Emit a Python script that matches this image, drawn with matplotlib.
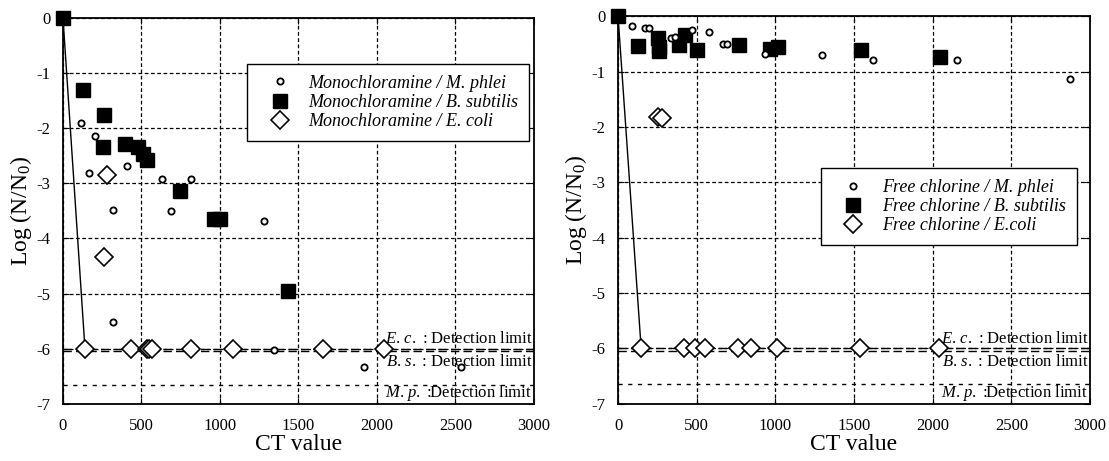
import matplotlib
matplotlib.use("Agg")
import matplotlib.pyplot as plt

plt.rcParams['font.family'] = ['Liberation Serif', 'DejaVu Serif']
plt.rcParams['mathtext.fontset'] = 'custom'
plt.rcParams['mathtext.rm'] = 'Liberation Serif'
plt.rcParams['mathtext.it'] = 'Liberation Serif:italic'
plt.rcParams['axes.unicode_minus'] = False

# Monochloramine (left panel)
mono_mp_x = [113, 206, 166, 406, 631, 815, 317, 690, 1280, 317, 1346, 1917, 2533]
mono_mp_y = [-1.91, -2.15, -2.81, -2.69, -2.92, -2.92, -3.48, -3.50, -3.69, -5.51, -6.02, -6.34, -6.34]
mono_bs_x = [0, 130, 263, 253, 395, 480, 512, 533, 745, 960, 1000, 1435]
mono_bs_y = [0, -1.30, -1.76, -2.34, -2.28, -2.34, -2.47, -2.58, -3.14, -3.65, -3.65, -4.95]
mono_ec_x = [282, 263, 140, 431, 533, 548, 565, 815, 1085, 1658, 2047]
mono_ec_y = [-2.84, -4.33, -6, -6, -6, -6, -6, -6, -6, -6, -6]

# Free chlorine (right panel)
free_mp_x = [87, 172, 199, 338, 359, 469, 580, 665, 692, 932, 1297, 1620, 2157, 2875]
free_mp_y = [-0.18, -0.21, -0.21, -0.40, -0.37, -0.25, -0.29, -0.51, -0.51, -0.69, -0.71, -0.80, -0.80, -1.13]
free_bs_x = [0, 129, 255, 260, 258, 389, 427, 501, 767, 968, 1019, 1542, 2047]
free_bs_y = [0, -0.54, -0.40, -0.55, -0.63, -0.52, -0.34, -0.61, -0.52, -0.60, -0.55, -0.62, -0.73]
free_ec_x = [257, 278, 147, 422, 490, 554, 762, 847, 1013, 1537, 2040]
free_ec_y = [-1.83, -1.84, -6, -6, -6, -6, -6, -6, -6, -6, -6]

# detection limits
ec_limit = -6.0
bs_limit = -6.05
mp_limit = -6.65

fig = plt.figure(figsize=(11.09, 4.61), dpi=100)
ax1 = fig.add_axes([0.0568, 0.124, 0.4247, 0.837])
ax2 = fig.add_axes([0.5573, 0.124, 0.4256, 0.841])


def draw_panel(ax, mp_x, mp_y, bs_x, bs_y, ec_x, ec_y, agent, ec_name, leg_anchor):
    # steep line from origin to the first E. coli point at the limit
    ax.plot([bs_x[0], ec_x[2]], [bs_y[0], ec_y[2]], color='black', lw=1.0, zorder=2)
    ax.axhline(ec_limit, color='black', lw=1.0, ls=(0, (6, 3)), zorder=2)
    ax.axhline(bs_limit, color='black', lw=1.0, ls=(0, (6, 3)), zorder=2)
    ax.axhline(mp_limit, color='black', lw=1.0, ls=(0, (3, 4)), zorder=2)

    ax.plot(mp_x, mp_y, 'o', ms=4.5, mfc='white', mec='black', mew=1.3,
            ls='none', label=agent + ' / M. phlei', zorder=4, clip_on=False)
    ax.plot(bs_x, bs_y, 's', ms=10, mfc='black', mec='black',
            ls='none', label=agent + ' / B. subtilis', zorder=3, clip_on=False)
    ax.plot(ec_x, ec_y, 'D', ms=9, mfc='white', mec='black', mew=1.2,
            ls='none', label=agent + ' / ' + ec_name, zorder=5, clip_on=False)

    ax.set_xlim(0, 3000)
    ax.set_ylim(-7, 0)
    ax.set_xticks(range(0, 3001, 500))
    ax.set_yticks(range(-7, 1))
    ax.grid(True, color='black', ls=(0, (3, 2)), lw=0.9)
    ax.set_axisbelow(True)
    ax.tick_params(direction='in', labelsize=12, length=4, top=True, right=True)
    ax.tick_params(axis='y', pad=9)
    ax.tick_params(axis='x', pad=10)
    for sp in ax.spines.values():
        sp.set_linewidth(1.3)
    ax.set_xlabel('CT value', fontsize=17, labelpad=0)
    ax.set_ylabel(r'Log (N/N$_{\mathrm{0}}$)', fontsize=17, labelpad=2)

    ax.text(2990, -5.97, r'$\mathit{E.\,c.}$ : Detection limit', ha='right', va='bottom', fontsize=12)
    ax.text(2990, -6.1, r'$\mathit{B.\,s.}$ : Detection limit', ha='right', va='top', fontsize=12)
    ax.text(2990, -6.98, r'$\mathit{M.\,p.}$ :Detection limit', ha='right', va='bottom', fontsize=12)

    leg = ax.legend(loc='upper right', bbox_to_anchor=leg_anchor, fancybox=False,
                    framealpha=1, edgecolor='black', prop={'style': 'italic', 'size': 13},
                    handletextpad=0.4, borderpad=0.6, labelspacing=0.12, handlelength=2.4,
                    borderaxespad=0)
    leg.get_frame().set_linewidth(1.0)


draw_panel(ax1, mono_mp_x, mono_mp_y, mono_bs_x, mono_bs_y, mono_ec_x, mono_ec_y,
           'Monochloramine', 'E. coli', (0.99, 0.881))
draw_panel(ax2, free_mp_x, free_mp_y, free_bs_x, free_bs_y, free_ec_x, free_ec_y,
           'Free chlorine', 'E.coli', (0.972, 0.608))

fig.savefig('out.png', dpi=100)
